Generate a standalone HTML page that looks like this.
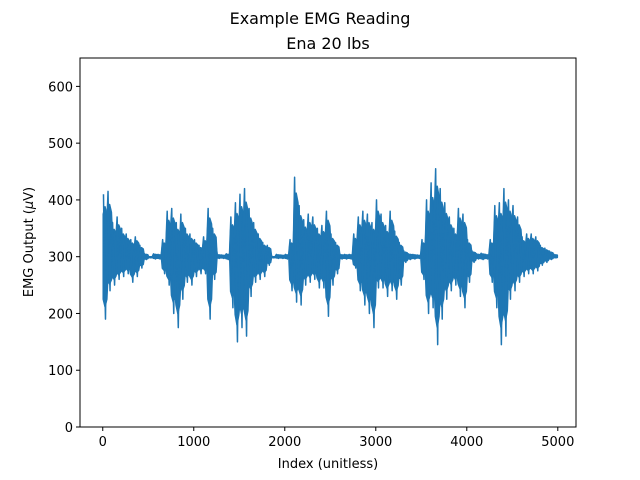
<!DOCTYPE html>
<html><head><meta charset="utf-8"><style>
body{margin:0;background:#fff;}
svg{display:block;font-family:"DejaVu Sans","Liberation Sans",sans-serif;}
</style></head><body>
<svg id="chart" width="640" height="480" viewBox="0 0 640 480">
<rect width="640" height="480" fill="#fff"/>
<text x="320" y="24" font-size="16" text-anchor="middle">Example EMG Reading</text>
<text x="328" y="49" font-size="16" text-anchor="middle">Ena 20 lbs</text>
<g id="plot"></g>
<rect x="80" y="58" width="496" height="369" fill="none" stroke="#000" stroke-width="1"/>
<text x="328" y="468" font-size="13" text-anchor="middle">Index (unitless)</text>
<text transform="translate(33,242) rotate(-90)" font-size="13" text-anchor="middle">EMG Output (<tspan font-style="italic">μ</tspan>V)</text>
</svg>
<script>
const xTicks=[0,1000,2000,3000,4000,5000];
const yTicks=[0,100,200,300,400,500,600];
const binSize=50;
const baseline=300;
const envMax=[410,415,360,370,350,340,330,335,320,305,300,305,304,
330,380,385,360,375,350,340,330,320,335,385,350,304,303,
305,370,395,410,420,385,360,340,325,320,300,304,303,304,
330,440,390,365,375,370,350,355,380,340,325,304,304,304,
340,370,380,375,360,400,375,355,380,345,325,310,305,304,303,
330,400,430,455,420,395,370,350,385,375,330,310,305,306,304,
330,390,395,420,400,390,370,335,340,340,335,320,315,310,304];
const envMin=[190,240,250,260,265,270,255,265,280,295,298,296,296,
270,250,200,175,225,255,250,265,270,270,190,260,297,297,
295,210,150,175,160,230,255,260,265,285,298,297,297,296,
240,220,215,250,255,260,245,245,195,250,270,296,296,296,
280,240,215,200,175,245,245,230,240,225,250,290,295,296,297,
260,200,210,145,190,225,240,250,230,210,255,290,296,295,296,
255,210,145,160,225,240,255,265,270,270,275,285,290,295,298];
const X0=80,X1=576,Y0=427,Y1=58;
const xMin=-250,xMax=5200,yMin=0,yMax=650;
function xs(v){return X0+(v-xMin)/(xMax-xMin)*(X1-X0);}
function ys(v){return Y0-(v-yMin)/(yMax-yMin)*(Y0-Y1);}
const NS='http://www.w3.org/2000/svg';
const svg=document.getElementById('chart');
const g=document.getElementById('plot');
let up=[],lo=[];
for(let i=0;i<envMax.length;i++){
  const s=i*binSize;
  const a=0.8;
  up.push(xs(s+5).toFixed(2)+','+ys(baseline+(envMax[i]-baseline)*a*0.85).toFixed(2));
  up.push(xs(s+25).toFixed(2)+','+ys(baseline+(envMax[i]-baseline)*a).toFixed(2));
  up.push(xs(s+45).toFixed(2)+','+ys(baseline+(envMax[i]-baseline)*a*0.85).toFixed(2));
  lo.push(xs(s+5).toFixed(2)+','+ys(baseline-(baseline-envMin[i])*a*0.85).toFixed(2));
  lo.push(xs(s+25).toFixed(2)+','+ys(baseline-(baseline-envMin[i])*a).toFixed(2));
  lo.push(xs(s+45).toFixed(2)+','+ys(baseline-(baseline-envMin[i])*a*0.85).toFixed(2));
}
const poly=document.createElementNS(NS,'polygon');
poly.setAttribute('points',up.concat(lo.reverse()).join(' '));
poly.setAttribute('fill','#1f77b4');
poly.setAttribute('stroke','#1f77b4');
poly.setAttribute('stroke-width','1.5');
poly.setAttribute('stroke-linejoin','round');


g.appendChild(poly);
let pts=[];
for(let i=0;i<envMax.length;i++){
  const s=i*binSize;
  pts.push(xs(s+8).toFixed(2)+','+ys(envMax[i]).toFixed(2));
  pts.push(xs(s+20).toFixed(2)+','+ys(envMin[i]+(envMax[i]-envMin[i])*0.35).toFixed(2));
  pts.push(xs(s+30).toFixed(2)+','+ys(envMin[i]).toFixed(2));
  pts.push(xs(s+42).toFixed(2)+','+ys(envMax[i]-(envMax[i]-envMin[i])*0.3).toFixed(2));
}
const pl=document.createElementNS(NS,'polyline');
pl.setAttribute('points',pts.join(' '));
pl.setAttribute('fill','none');
pl.setAttribute('stroke','#1f77b4');
pl.setAttribute('stroke-width','1.5');
pl.setAttribute('stroke-linejoin','round');


g.appendChild(pl);
xTicks.forEach(t=>{
  const x=xs(t);
  const l=document.createElementNS(NS,'line');
  l.setAttribute('x1',x);l.setAttribute('x2',x);l.setAttribute('y1',Y0);l.setAttribute('y2',Y0+4);
  l.setAttribute('stroke','#000');
  
  
  svg.appendChild(l);
  const tx=document.createElementNS(NS,'text');
  tx.setAttribute('x',x);tx.setAttribute('y',Y0+19);tx.setAttribute('font-size','13');tx.setAttribute('text-anchor','middle');
  tx.textContent=t;
  
  
  svg.appendChild(tx);
});
yTicks.forEach(t=>{
  const y=ys(t);
  const l=document.createElementNS(NS,'line');
  l.setAttribute('x1',X0-4);l.setAttribute('x2',X0);l.setAttribute('y1',y);l.setAttribute('y2',y);
  l.setAttribute('stroke','#000');
  
  
  svg.appendChild(l);
  const tx=document.createElementNS(NS,'text');
  tx.setAttribute('x',X0-7);tx.setAttribute('y',y+5);tx.setAttribute('font-size','13');tx.setAttribute('text-anchor','end');
  tx.textContent=t;
  
  
  svg.appendChild(tx);
});
</script>
</body></html>
